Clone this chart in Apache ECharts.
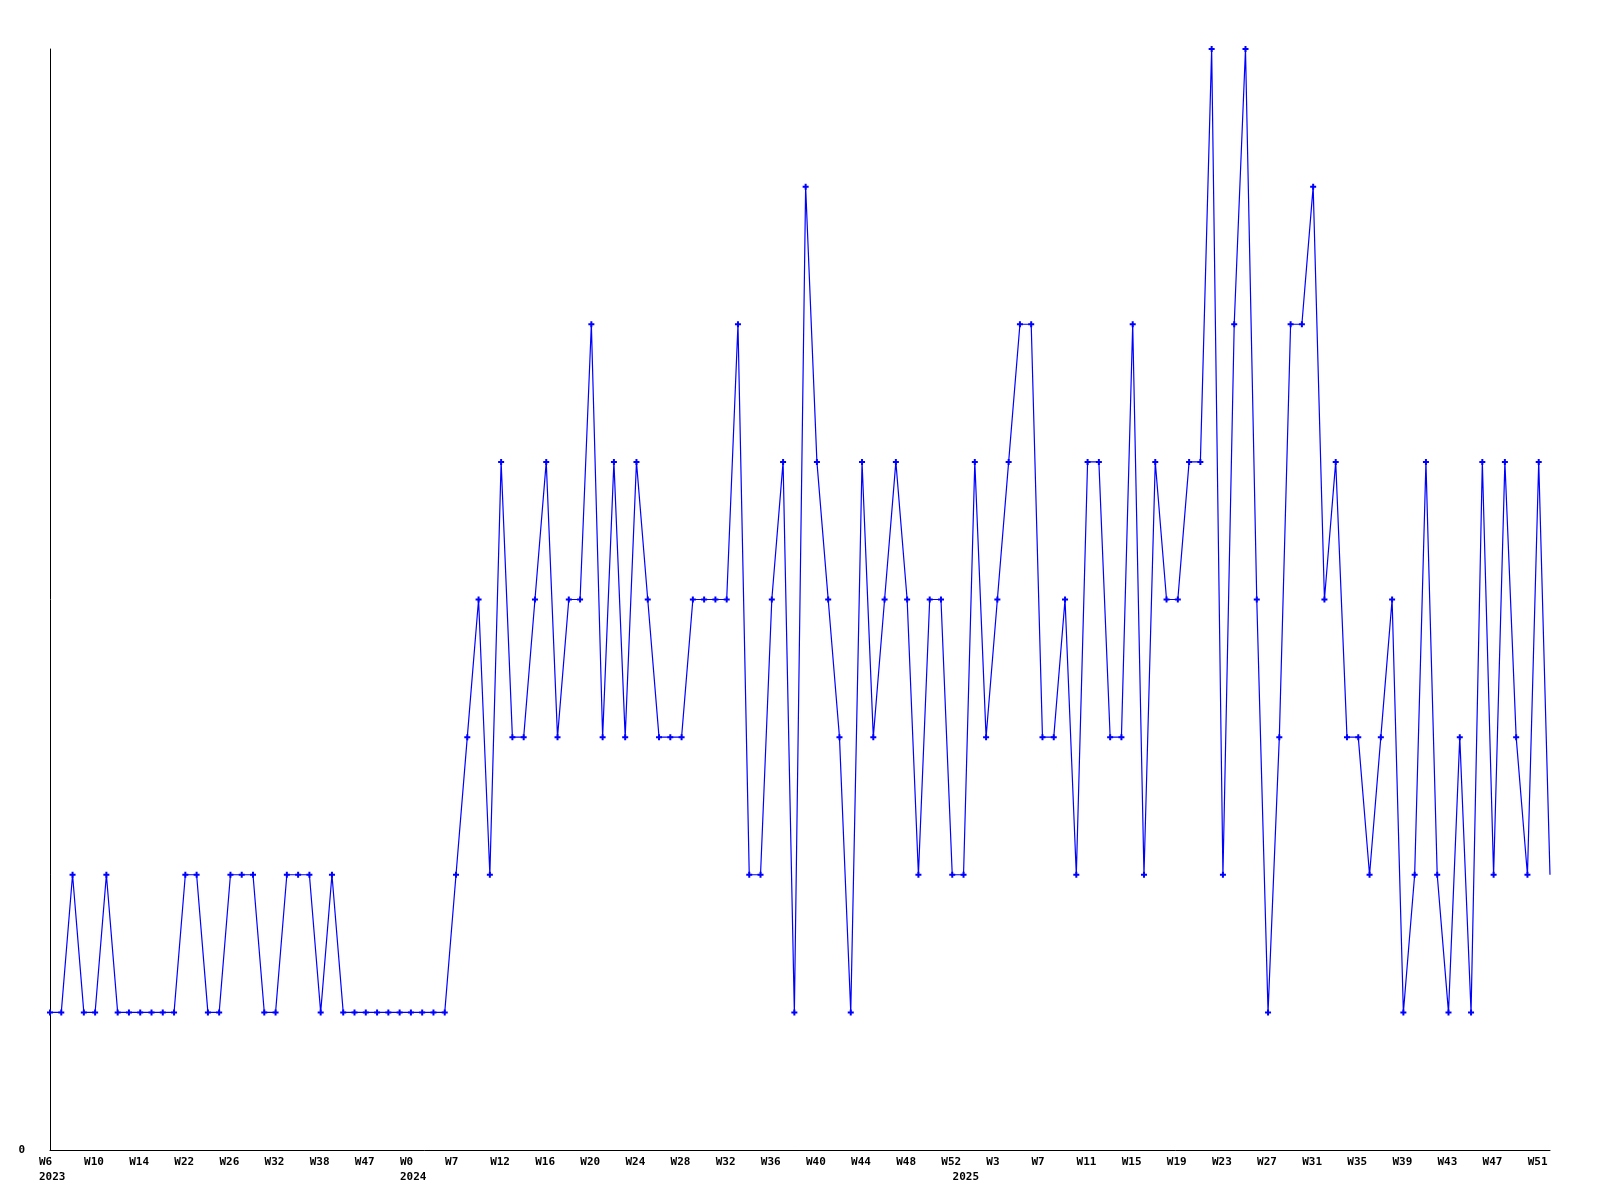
<!DOCTYPE html>
<html>
<head>
<meta charset="utf-8">
<script src="https://cdn.jsdelivr.net/npm/echarts@6/dist/echarts.min.js"></script>
<style>html,body{margin:0;padding:0;background:#fff;}#c{width:1600px;height:1200px;}</style>
</head>
<body>
<div id="c"></div>
<script>
// Category (week) labels, one per data point
var weeks = [
  // 2023
  'W6','W7','W8','W9','W10','W11','W12','W13','W14','W16','W18','W20','W22','W23','W24','W25',
  'W26','W27','W29','W30','W32','W33','W35','W36','W38','W40','W42','W44','W47','W49','W50','W52',
  // 2024
  'W0','W3','W5','W6','W7','W9','W10','W11','W12','W13','W14','W15','W16','W17','W18','W19',
  'W20','W21','W22','W23','W24','W25','W26','W27','W28','W29','W30','W31','W32','W33','W34','W35',
  'W36','W37','W38','W39','W40','W41','W42','W43','W44','W45','W46','W47','W48','W49','W50','W51','W52',
  // 2025
  'W0','W1','W2','W3','W4','W5','W6','W7','W8','W9','W10','W11','W12','W13','W14','W15',
  'W16','W17','W18','W19','W20','W21','W22','W23','W24','W25','W26','W27','W28','W29','W30','W31',
  'W32','W33','W34','W35','W36','W37','W38','W39','W40','W41','W42','W43','W44','W45','W46','W47',
  'W48','W49','W50','W51','W52'
];
// first category index of each year and the year names
var yearStartIndex = [0, 32, 81];
var yearNames = ['2023', '2024', '2025'];

// series values
var values = [
  1,1,2,1,1,2,1,1,1,1,1,1,2,2,1,1,2,2,2,1,1,2,2,2,1,2,1,1,1,1,1,1,
  1,1,1,1,2,3,4,2,5,3,3,4,5,3,4,4,6,3,5,3,5,4,3,3,3,4,4,4,4,6,2,2,
  4,5,1,7,5,4,3,1,5,3,4,5,4,2,4,4,2,
  2,5,3,4,5,6,6,3,3,4,2,5,5,3,3,6,2,5,4,4,5,5,8,2,6,8,4,1,3,6,6,7,
  4,5,3,3,2,3,4,1,2,5,2,1,3,1,5,2,5,3,2,5,2
];

var FONT = 'DejaVu Sans Mono';
var chart = echarts.init(document.getElementById('c'), null, {renderer: 'canvas'});
var seriesData = values.map(function (v, i) {
  return i === values.length - 1 ? {value: v, symbol: 'none'} : v;
});

chart.setOption({
  animation: false,
  backgroundColor: '#ffffff',
  grid: {left: 50, right: 50, top: 49, bottom: 50, containLabel: false},
  xAxis: {
    type: 'category',
    data: weeks,
    boundaryGap: false,
    axisLine: {show: true, onZero: false, lineStyle: {color: '#000', width: 1}},
    axisTick: {show: false},
    splitLine: {show: false},
    axisLabel: {
      interval: function (idx) {
        return idx % 4 === 0 || yearStartIndex.indexOf(idx) >= 0;
      },
      formatter: function (value, idx) {
        var yi = yearStartIndex.indexOf(idx);
        var top = (idx % 4 === 0) ? value : ' ';
        var s = '{w|' + top + '}';
        if (yi >= 0) s += '\n{w|' + yearNames[yi] + '}';
        return s;
      },
      margin: 5,
      verticalAlign: 'top',
      rich: {
        w: {width: 22, align: 'left', fontFamily: FONT, fontSize: 11, fontWeight: 'bold', color: '#000', lineHeight: 15}
      }
    }
  },
  yAxis: {
    type: 'value',
    min: 0,
    max: 8,
    interval: 8,
    axisLine: {show: true, lineStyle: {color: '#000', width: 1}},
    axisTick: {show: false},
    splitLine: {show: false},
    axisLabel: {
      margin: 25,
      fontFamily: FONT, fontSize: 11, fontWeight: 'bold', color: '#000',
      formatter: function (v) { return v === 0 ? '0' : ''; }
    }
  },
  series: [{
    type: 'line',
    data: seriesData,
    showAllSymbol: true,
    symbol: 'path://M2,0H4V2H6V4H4V6H2V4H0V2H2Z',
    symbolSize: 6,
    itemStyle: {color: '#0000ff'},
    lineStyle: {color: '#0000ff', width: 1.2},
    emphasis: {disabled: true}
  }]
});
</script>
</body>
</html>
